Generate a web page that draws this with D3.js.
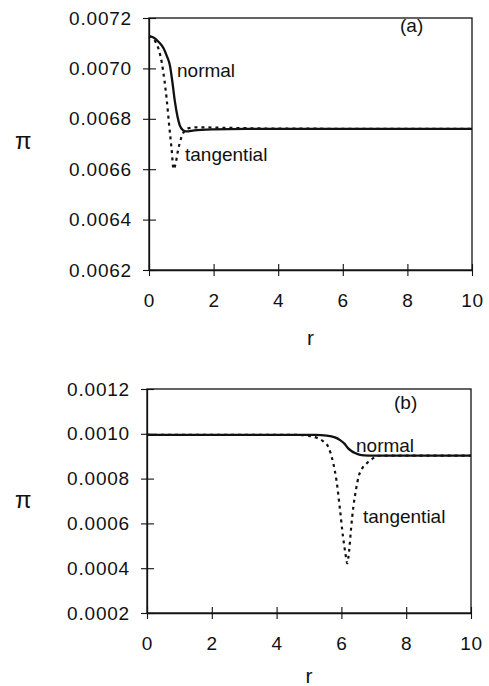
<!DOCTYPE html>
<html>
<head>
<meta charset="utf-8">
<script src="https://cdn.jsdelivr.net/npm/d3@7"></script>
<style>
  body { margin: 0; background: #fff; }
  svg text { font-family: Arial, "Liberation Sans", Helvetica, sans-serif; fill: #111; }
</style>
</head>
<body>
<div id="chart"></div>
<script>
// panel (a)
const rA = [0, 0.15, 0.3, 0.45, 0.55, 0.65, 0.72, 0.8, 0.88, 0.95, 1.05, 1.15, 1.4, 2, 3, 10];
const normalA = [0.007128, 0.007122, 0.007105, 0.00708, 0.00705, 0.00701, 0.00695, 0.00687, 0.00681, 0.006775, 0.006755, 0.00675, 0.006754, 0.006758, 0.00676, 0.00676];
const rTA = [0, 0.15, 0.3, 0.4, 0.48, 0.55, 0.62, 0.7, 0.76, 0.82, 0.9, 1.0, 1.1, 1.2, 1.5, 2.5, 4, 10];
const tangA = [0.007128, 0.007115, 0.007075, 0.00702, 0.00695, 0.006875, 0.00678, 0.00668, 0.0066, 0.00662, 0.006676, 0.006725, 0.006752, 0.006762, 0.006766, 0.006764, 0.006761, 0.00676];
const yTicksA = [0.0062, 0.0064, 0.0066, 0.0068, 0.0070, 0.0072];

// panel (b)
const rB = [0, 5.2, 5.55, 5.8, 5.96, 6.1, 6.21, 6.32, 6.42, 6.55, 6.7, 7, 10];
const normalB = [0.000995, 0.000995, 0.000992, 0.000984, 0.000972, 0.000955, 0.000935, 0.000922, 0.000914, 0.000907, 0.000904, 0.000903, 0.000903];
const rTB = [0, 4.6, 5.0, 5.24, 5.45, 5.6, 5.75, 5.85, 5.95, 6.05, 6.12, 6.18, 6.24, 6.3, 6.37, 6.45, 6.53, 6.65, 6.78, 6.95, 7.1, 10];
const tangB = [0.000995, 0.000995, 0.000991, 0.000982, 0.000965, 0.00094, 0.000868, 0.00079, 0.00067, 0.00054, 0.00047, 0.000422, 0.00048, 0.00058, 0.000675, 0.00075, 0.000808, 0.000848, 0.000868, 0.000888, 0.000902, 0.000903];
const yTicksB = [0.0002, 0.0004, 0.0006, 0.0008, 0.0010, 0.0012];

const xTicks = [0, 2, 4, 6, 8, 10];

const svg = d3.select('#chart').append('svg').attr('width', 489).attr('height', 686);

function drawPanel(cfg) {
  const x = d3.scaleLinear().domain([0, 10]).range([cfg.left, cfg.right]);
  const y = d3.scaleLinear().domain(cfg.yDomain).range([cfg.bottom, cfg.top]);
  const g = svg.append('g');

  // frame
  g.append('rect')
    .attr('x', cfg.left).attr('y', cfg.top)
    .attr('width', cfg.right - cfg.left).attr('height', cfg.bottom - cfg.top)
    .attr('fill', 'none').attr('stroke', '#111').attr('stroke-width', 1.3);

  const yAxis = g.append('g')
    .attr('transform', `translate(${cfg.left},0)`)
    .call(d3.axisLeft(y).tickValues(cfg.yTicks).tickFormat(d3.format('.4f')).tickSize(6).tickSizeOuter(0).tickPadding(11));
  const xAxis = g.append('g')
    .attr('transform', `translate(0,${cfg.bottom})`)
    .call(d3.axisBottom(x).tickValues(xTicks).tickFormat(d3.format('d')).tickSize(6).tickSizeOuter(0).tickPadding(18));
  // ticks cross the axis line
  yAxis.selectAll('.tick').append('line').attr('x2', 7);
  xAxis.selectAll('.tick').append('line').attr('y2', -6);
  [yAxis, xAxis].forEach(a => {
    a.select('.domain').attr('stroke', '#111').attr('stroke-width', 1.3);
    a.selectAll('line').attr('stroke', '#111').attr('stroke-width', 1.1);
    a.selectAll('text').attr('font-size', 19).attr('fill', '#111')
      .attr('font-family', 'Arial, "Liberation Sans", sans-serif').style('letter-spacing', '0.8px');
  });

  const line = d3.line().x(d => x(d[0])).y(d => y(d[1])).curve(d3.curveMonotoneX);

  g.append('path')
    .datum(d3.zip(cfg.rT, cfg.tang))
    .attr('d', line)
    .attr('fill', 'none').attr('stroke', '#111').attr('stroke-width', 2.2)
    .attr('stroke-dasharray', '3,4');
  g.append('path')
    .datum(d3.zip(cfg.rN, cfg.normal))
    .attr('d', line)
    .attr('fill', 'none').attr('stroke', '#111').attr('stroke-width', 2.3);

  cfg.labels.forEach(l => {
    g.append('text').attr('x', l.x).attr('y', l.y).attr('font-size', 19).text(l.text);
  });

  g.append('text').attr('x', (cfg.left + cfg.right) / 2).attr('y', cfg.rY)
    .attr('text-anchor', 'middle').attr('font-size', 21).text('r');
  g.append('text').attr('x', 15).attr('y', cfg.piY)
    .attr('font-size', 24).attr('font-family', '"DejaVu Serif", "Liberation Serif", serif').text('π');
}

drawPanel({
  left: 149, right: 472, top: 18, bottom: 270,
  yDomain: [0.0062, 0.0072], yTicks: yTicksA,
  rN: rA, normal: normalA, rT: rTA, tang: tangA,
  piY: 149, rY: 345,
  labels: [
    { x: 177, y: 77, text: 'normal' },
    { x: 185, y: 161, text: 'tangential' },
    { x: 400, y: 32, text: '(a)' }
  ]
});

drawPanel({
  left: 147, right: 471, top: 389, bottom: 613,
  yDomain: [0.0002, 0.0012], yTicks: yTicksB,
  rN: rB, normal: normalB, rT: rTB, tang: tangB,
  piY: 508, rY: 683,
  labels: [
    { x: 356, y: 452, text: 'normal' },
    { x: 363, y: 523, text: 'tangential' },
    { x: 394, y: 409, text: '(b)' }
  ]
});
</script>
</body>
</html>
